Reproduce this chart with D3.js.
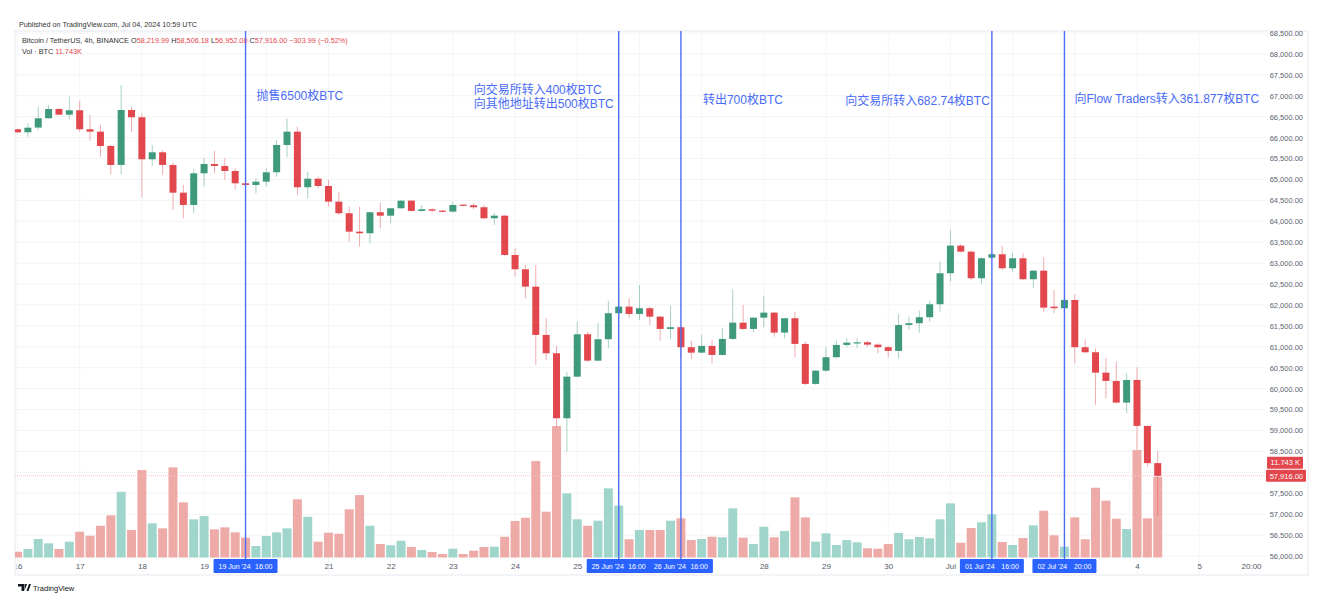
<!DOCTYPE html>
<html><head><meta charset="utf-8">
<script src="https://cdn.jsdelivr.net/npm/d3@7"></script>
<style>
html,body{margin:0;padding:0;background:#fff;}
svg{display:block;font-family:"Liberation Sans",Arial,sans-serif;}
</style></head><body>
<svg id="chart" width="1334" height="612"></svg>
<script>
// ---- DATA (BTC/USDT 4h, Binance, from 16 Jun 2024 00:00 UTC) ----
const startTime = Date.UTC(2024, 5, 16, 0);
const opens  = [66200,66127,66240,66462,66684,66548,66653,66199,66142,65800,65346,66660,66486,65482,65649,65346,64684,64390,65147,65370,65322,65202,64908,64868,64947,65171,65824,66142,64813,65018,64844,64469,64192,63752,63714,64216,64134,64311,64493,64247,64287,64254,64230,64397,64383,64335,64072,64134,63195,62853,62438,61284,60846,59293,60287,61300,60669,61181,61802,61960,61785,61922,61721,61427,61468,60990,60860,61021,60806,61188,61577,61427,61697,61817,61339,61683,61069,60113,60430,60751,61045,61100,61108,61052,60990,60902,61522,61563,61707,62017,62758,63418,63274,62638,63130,63212,62877,63116,62615,62820,61960,61922,62120,60990,60870,60382,60184,59666,60208,59109,58219.99];
const highs  = [66210,66342,66739,66779,66701,66978,66882,66541,66302,65824,67257,66739,66581,65824,65704,65401,64868,65243,65506,65687,65506,65267,65226,65028,65267,65943,66462,66261,65186,65066,64987,64708,64349,64349,64230,64445,64320,64500,64500,64383,64311,64270,64467,64410,64430,64390,64192,64151,63355,62957,62957,61683,61021,60407,61601,61362,61564,62103,62359,62161,62478,61960,61730,61976,61480,61148,61284,61164,61444,62375,61999,61697,62216,61825,61690,61841,61124,60447,60990,61148,61205,61205,61140,61084,61021,61785,61721,61864,62096,63035,63793,63450,63298,63140,63240,63410,63250,63236,62837,63140,62359,62140,62263,61181,60966,60727,60646,60368,60512,59110,58506.18];
const lows   = [66110,66022,66182,66455,66533,66438,66142,65926,65544,65124,65131,66142,64574,65322,65107,64271,64072,64192,64827,65147,64987,64765,64629,64670,64827,65066,65530,64629,64550,64789,64349,64151,63513,63394,63475,63833,63953,64300,64240,64230,64211,64215,64220,64360,64287,64056,63912,63171,62677,62160,60567,60686,59092,58500,60270,60646,60646,60966,61780,61683,61642,61522,61148,61181,60727,60703,60846,60607,60782,61164,61404,61339,61468,61243,61205,60751,60089,60089,60407,60727,60990,60966,61000,60846,60751,60727,61403,61339,61601,61840,62557,63250,62598,62495,63110,62837,62796,62598,62400,61840,61802,61900,60607,60846,59611,59771,59650,59413,58536,58136,56952];
const closes = [66127,66237,66462,66684,66548,66653,66199,66142,65800,65346,66660,66486,65482,65649,65346,64684,64390,65147,65370,65322,65202,64908,64868,64947,65171,65824,66142,64813,65018,64844,64469,64192,63752,63714,64216,64134,64311,64493,64247,64287,64254,64230,64390,64383,64335,64072,64134,63195,62853,62438,61284,60846,59293,60287,61300,60669,61181,61802,61960,61785,61922,61721,61427,61468,60990,60860,61021,60806,61188,61577,61427,61697,61817,61339,61683,61069,60113,60430,60751,61045,61100,61108,61052,60990,60902,61522,61563,61707,62017,62758,63418,63274,62638,63116,63212,62877,63116,62615,62820,61936,61922,62120,60990,60870,60382,60184,59666,60208,59109,58220,57916];
// volume in thousand BTC
const volumes = [0.84,1.24,2.69,2.06,1.24,2.30,3.75,3.17,4.62,6.13,9.56,4.00,12.72,4.97,4.24,13.11,8.02,5.55,6.03,4.10,4.39,3.66,2.88,1.67,3.13,3.66,4.24,8.46,5.93,2.30,3.60,3.46,7.01,9.08,4.62,1.96,1.77,2.44,1.53,1.09,0.80,0.51,1.28,0.51,0.99,1.53,1.57,3.02,5.31,5.78,14.03,6.66,19.11,9.33,5.55,4.62,5.35,10.06,7.56,2.65,4.00,4.00,4.00,5.35,5.70,2.54,2.69,3.02,2.94,7.15,2.88,1.96,4.48,2.94,3.85,8.75,5.84,2.30,3.52,1.82,2.54,2.21,1.34,1.28,1.96,3.56,2.65,2.98,2.79,5.55,7.88,2.15,4.29,5.12,6.28,2.25,1.82,2.83,4.68,6.80,3.23,1.57,5.84,2.65,10.15,8.26,5.64,4.14,15.63,5.70,11.743];

const priceTicks = d3.range(56000, 68501, 500);
// day grid (all days) and the day labels that are visible on the time axis
const gridDays = [16,17,18,19,20,21,22,23,24,25,26,27,28,29,30,31,32,33,34,35].map(d => new Date(Date.UTC(2024,5,d)));
const labelDays = [16,17,18,19,21,22,23,24,25,28,29,30,31,34,35].map(d => new Date(Date.UTC(2024,5,d)));
const extraTick = new Date(Date.UTC(2024,6,5,20));
const markerTimes = [Date.UTC(2024,5,19,16), Date.UTC(2024,5,25,16), Date.UTC(2024,5,26,16), Date.UTC(2024,6,1,16), Date.UTC(2024,6,2,20)].map(t => new Date(t));
const markerLabels = ["19 Jun '24", "25 Jun '24", "26 Jun '24", "01 Jul '24", "02 Jul '24"];
const markerHours = ["16:00", "16:00", "16:00", "16:00", "20:00"];
const notes = [
  ["抛售6500枚BTC"],
  ["向交易所转入400枚BTC", "向其他地址转出500枚BTC"],
  ["转出700枚BTC"],
  ["向交易所转入682.74枚BTC"],
  ["向Flow Traders转入361.877枚BTC"]
];
const headerTitle = "Bitcoin / TetherUS, 4h, BINANCE";
const ohlcLabels = ["O", "H", "L", "C"];
const ohlcValues = ["58,219.99", "58,506.18", "56,952.00", "57,916.00"];
const changeText = "\u2212303.99 (\u22120.52%)";
const volLabel = "Vol \u00b7 BTC";
const volValue = "11.743K";

// ---- BUILD ----
const candles = opens.map((o, i) => ({
  t: new Date(startTime + i * 4 * 3600e3), o, h: highs[i], l: lows[i], c: closes[i], v: volumes[i]
}));

const UP = "#3f9a7d", DOWN = "#e2474d", VUP = "#a0d5cb", VDOWN = "#eeaaa7";
const MARK = "#4c6ef5", NOTE = "#4a6cf7", BOX = "#2962ff";

const svg = d3.select("#chart");
const pane = {l: 15, r: 1265, t: 31, b: 575};

const x = d3.scaleUtc().domain([new Date(Date.UTC(2024,5,16)), new Date(Date.UTC(2024,6,4))]).range([17.5, 1137]);
const y = d3.scaleLinear().domain([56000, 68500]).range([556, 33]);
const yv = d3.scaleLinear().domain([0, 20]).range([557.5, 420]);

svg.append("defs").append("clipPath").attr("id", "plot")
  .append("rect").attr("x", pane.l).attr("y", pane.t).attr("width", pane.r - pane.l).attr("height", pane.b - pane.t);

// frame
svg.append("rect").attr("x", pane.l).attr("y", pane.t).attr("width", 1308 - pane.l).attr("height", pane.b - pane.t)
  .attr("fill", "none").attr("stroke", "#e6e8ee").attr("stroke-width", 1);

const plot = svg.append("g").attr("clip-path", "url(#plot)");

// grid
plot.selectAll(".hg").data(priceTicks).join("line")
  .attr("x1", pane.l).attr("x2", pane.r).attr("y1", d => y(d)).attr("y2", d => y(d))
  .attr("stroke", "#f2f3f6").attr("stroke-width", 1);
plot.selectAll(".vg").data(gridDays).join("line")
  .attr("x1", d => x(d)).attr("x2", d => x(d)).attr("y1", pane.t).attr("y2", pane.b)
  .attr("stroke", "#f4f5f8").attr("stroke-width", 1);

// volume
plot.selectAll(".vol").data(candles).join("rect")
  .attr("x", d => x(d.t) - 4.5).attr("width", 9)
  .attr("y", d => yv(d.v)).attr("height", d => yv(0) - yv(d.v))
  .attr("fill", d => d.c >= d.o ? VUP : VDOWN);

// last price line
const last = candles[candles.length - 1];
plot.append("line").attr("x1", pane.l).attr("x2", pane.r).attr("y1", y(last.c)).attr("y2", y(last.c))
  .attr("stroke", "#f6c4c6").attr("stroke-width", 1).attr("stroke-dasharray", "1,1");

// candles
const cg = plot.selectAll(".cd").data(candles).join("g");
cg.append("line")
  .attr("x1", d => x(d.t)).attr("x2", d => x(d.t))
  .attr("y1", d => y(d.h)).attr("y2", d => y(d.l))
  .attr("stroke", d => d.c >= d.o ? UP : DOWN).attr("stroke-opacity", 0.45).attr("stroke-width", 1);
cg.append("rect")
  .attr("x", d => x(d.t) - 3.5).attr("width", 7)
  .attr("y", d => y(Math.max(d.o, d.c)))
  .attr("height", d => Math.max(1.2, Math.abs(y(d.o) - y(d.c))))
  .attr("fill", d => d.c >= d.o ? UP : DOWN);

// marker lines
svg.selectAll(".mk").data(markerTimes).join("line")
  .attr("x1", d => x(d)).attr("x2", d => x(d)).attr("y1", pane.t).attr("y2", 559)
  .attr("stroke", MARK).attr("stroke-width", 1.4);

// annotations
const noteAnchor = [["start", 11, 100], ["start", -145, 94], ["start", 22, 104], ["end", -2, 105], ["start", 10, 103]];
notes.forEach((lines, k) => {
  const [anchor, dx, by] = noteAnchor[k];
  const tx = x(markerTimes[k]) + dx;
  const t = svg.append("text").attr("x", tx).attr("y", by)
    .attr("text-anchor", anchor).attr("fill", NOTE)
    .style("font-family", "'Liberation Sans','Noto Sans CJK SC',sans-serif").style("font-size", "12px");
  lines.forEach((s, j) => {
    t.append("tspan").attr("x", tx).attr("dy", j === 0 ? 0 : 13.5).text(s);
  });
});

// right price axis (labels hidden where the last-price / volume badges sit)
const badgeY = y(last.c);
const axisTicks = priceTicks.filter(p => Math.abs(y(p) - badgeY) > 9 && Math.abs(y(p) - (badgeY - 13)) > 9);
const ra = svg.append("g").attr("transform", "translate(1303,0)")
  .call(d3.axisLeft(y).tickValues(axisTicks).tickFormat(d3.format(",.2f")).tickSize(0).tickPadding(0));
ra.select(".domain").remove();
ra.selectAll("text").attr("fill", "#606470").style("font-size", "7.5px").style("font-family", "'Liberation Sans',Arial,sans-serif");

// bottom time axis
svg.append("defs").append("clipPath").attr("id", "xclip")
  .append("rect").attr("x", 16.5).attr("y", 555).attr("width", 1290).attr("height", 25);
const fmtDay = d => d.getUTCHours() === 20 ? "20:00" : (d.getUTCDate() === 1 ? "Jul" : String(d.getUTCDate()));
const ba = svg.append("g").attr("clip-path", "url(#xclip)").append("g").attr("transform", "translate(0,560)")
  .call(d3.axisBottom(x).tickValues(labelDays.concat([extraTick])).tickFormat(fmtDay).tickSize(0).tickPadding(3));
ba.select(".domain").remove();
ba.selectAll("text").attr("fill", "#555a66").style("font-size", "8px");

// highlighted time boxes
markerTimes.forEach((t, k) => {
  const cx = x(t);
  svg.append("rect").attr("x", cx - 32).attr("y", 559).attr("width", 64).attr("height", 14).attr("fill", BOX).attr("rx", 1);
  svg.append("text").attr("x", cx - 27).attr("y", 569).attr("fill", "#fff").style("font-size", "7px").text(markerLabels[k]);
  svg.append("text").attr("x", cx + 27).attr("y", 569).attr("text-anchor", "end").attr("fill", "#fff").style("font-size", "7px").text(markerHours[k]);
});

// last price + volume labels
svg.append("rect").attr("x", 1266).attr("y", badgeY - 6).attr("width", 40).attr("height", 12).attr("fill", DOWN).attr("rx", 1);
svg.append("text").attr("x", 1303).attr("y", badgeY + 3).attr("text-anchor", "end").attr("fill", "#fff").style("font-size", "7.5px")
  .text(d3.format(",.2f")(last.c));
svg.append("rect").attr("x", 1267).attr("y", badgeY - 19).attr("width", 36).attr("height", 12).attr("fill", DOWN).attr("rx", 1);
svg.append("text").attr("x", 1300).attr("y", badgeY - 11).attr("text-anchor", "end").attr("fill", "#fff").style("font-size", "7.5px")
  .text(d3.format(".3f")(last.v) + " K");

// header
svg.append("text").attr("x", 19).attr("y", 26.5).attr("fill", "#333").style("font-size", "7.2px")
  .text("Published on TradingView.com, Jul 04, 2024 10:59 UTC");
const h2 = svg.append("text").attr("x", 22).attr("y", 43).style("font-size", "7.3px").attr("fill", "#333");
h2.append("tspan").text(headerTitle + "  ");
ohlcLabels.forEach((lab, k) => {
  h2.append("tspan").attr("fill", "#333").text(lab);
  h2.append("tspan").attr("fill", DOWN).text(ohlcValues[k] + "  ");
});
h2.append("tspan").attr("fill", DOWN).text(changeText);
const h3 = svg.append("text").attr("x", 22).attr("y", 54).style("font-size", "7.3px").attr("fill", "#333");
h3.append("tspan").text(volLabel + "  ");
h3.append("tspan").attr("fill", DOWN).text(volValue);

// logo
const logo = svg.append("g").attr("transform", "translate(18,584)");
logo.append("path").attr("d", "M0,0 H6 V7 H3.5 V2.5 H0 Z M6.5,0 H9 L6.5,7 Z M8.5,7 L11,0 H13 L10.5,7 Z").attr("fill", "#131722");
logo.append("text").attr("x", 15).attr("y", 6.5).attr("fill", "#131722").style("font-size", "7.5px").text("TradingView");
</script>
</body></html>
